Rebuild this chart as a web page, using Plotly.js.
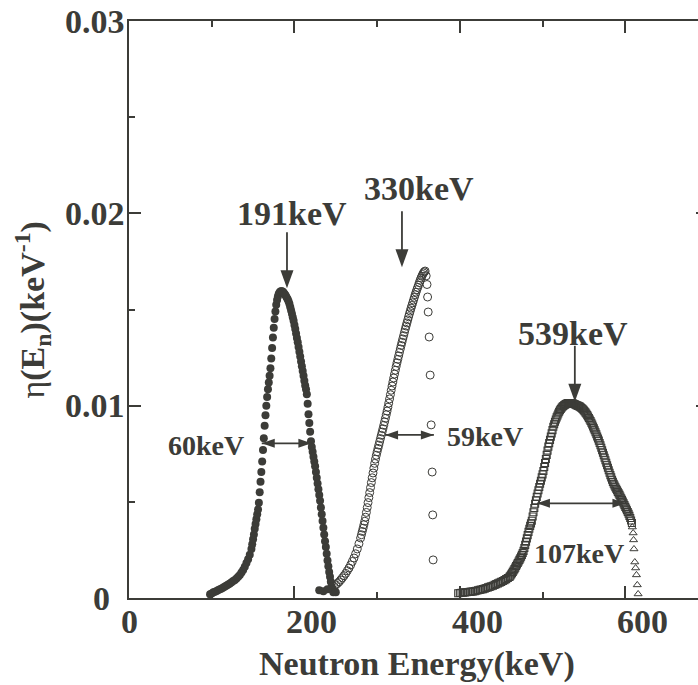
<!DOCTYPE html>
<html>
<head>
<meta charset="utf-8">
<script src="https://cdn.plot.ly/plotly-3.0.1.min.js"></script>
<style>
  html, body { margin: 0; padding: 0; overflow: hidden; background: #ffffff; }
  #chart { width: 720px; height: 685px; }
</style>
</head>
<body>
<div id="chart"></div>
<script>
// Neutron energy spectra eta(En) for three beam settings (keV, keV^-1)

// 191 keV spectrum (filled circles)
const filledEnergy = [
  98,100,102,104,106,108,110,112,114,116,118,120,122,124,126,128,130,132,134,136,138,140,142,144,146,148,
  149,150,151,152,153,154,155,156,157,158,159,160,161,162,163,164,165,166,167,168,169,170,
  171,172,173,174,175,176,177,178,179,180,181,182,183,184,185,186,187,188,189,190,
  191,192,193,194,195,196,197,198,199,200,201,202,203,204,205,206,207,208,209,210,
  211,212,213,214,215,216,217,218,219,220,221,222,223,224,225,226,227,228,229,230,
  231,232,233,234,235,236,237,238,239,240,241,242,243,244,245,246,247,
  230,235,240,250
];
const filledEta = [
  0.20e-3,0.24e-3,0.30e-3,0.33e-3,0.37e-3,0.42e-3,0.46e-3,0.50e-3,0.55e-3,0.60e-3,0.65e-3,0.70e-3,0.76e-3,
  0.82e-3,0.88e-3,0.94e-3,1.02e-3,1.10e-3,1.20e-3,1.32e-3,1.46e-3,1.63e-3,1.82e-3,2.02e-3,2.25e-3,2.55e-3,
  2.80e-3,3.05e-3,3.30e-3,3.60e-3,3.85e-3,4.10e-3,4.35e-3,4.60e-3,4.95e-3,5.50e-3,6.05e-3,6.55e-3,7.10e-3,
  7.70e-3,8.30e-3,8.95e-3,9.50e-3,10.0e-3,10.45e-3,10.85e-3,11.2e-3,11.55e-3,
  11.95e-3,12.45e-3,13.0e-3,13.55e-3,14.05e-3,14.5e-3,14.9e-3,15.25e-3,15.5e-3,15.68e-3,15.8e-3,15.88e-3,
  15.93e-3,15.95e-3,15.95e-3,15.92e-3,15.87e-3,15.8e-3,15.75e-3,15.68e-3,
  15.6e-3,15.52e-3,15.42e-3,15.28e-3,15.12e-3,14.95e-3,14.78e-3,14.6e-3,14.42e-3,14.2e-3,13.98e-3,13.75e-3,
  13.52e-3,13.3e-3,13.05e-3,12.8e-3,12.55e-3,12.3e-3,12.05e-3,11.8e-3,
  11.55e-3,11.3e-3,11.05e-3,10.85e-3,10.6e-3,10.1e-3,9.55e-3,9.1e-3,8.65e-3,8.15e-3,7.85e-3,7.6e-3,7.35e-3,
  7.1e-3,6.85e-3,6.55e-3,6.25e-3,5.95e-3,5.65e-3,5.35e-3,
  5.05e-3,4.7e-3,4.35e-3,4.0e-3,3.65e-3,3.3e-3,2.95e-3,2.65e-3,2.3e-3,1.95e-3,1.65e-3,1.35e-3,1.1e-3,
  0.85e-3,0.6e-3,0.45e-3,0.3e-3,
  0.40e-3,0.35e-3,0.45e-3,0.30e-3
];

// 330 keV spectrum (open circles)
const openEnergy = [
  246,248,250,252,254,256,258,260,262,264,266,268,270,272,274,276,278,
  280,281,282,283,284,285,286,287,288,289,290,291,292,293,294,295,296,297,298,299,
  300,301,302,303,304,305,306,307,308,309,310,311,312,313,314,315,316,317,318,319,
  320,321,322,323,324,325,326,327,328,329,330,331,332,333,334,335,336,337,338,339,
  340,341,342,343,344,345,346,347,348,349,350,351,352,353,354,355,356,357,358,
  359.3,360.3,361.0,361.7,362.9,364.1,365.3,366.5,367.2,367.7
];
const openEta = [
  0.45e-3,0.6e-3,0.68e-3,0.76e-3,0.84e-3,0.94e-3,1.05e-3,1.16e-3,1.28e-3,1.42e-3,1.56e-3,1.72e-3,1.9e-3,
  2.08e-3,2.3e-3,2.55e-3,2.82e-3,
  3.12e-3,3.29e-3,3.46e-3,3.63e-3,3.81e-3,3.99e-3,4.2e-3,4.45e-3,4.7e-3,4.96e-3,5.22e-3,5.48e-3,5.74e-3,
  6.0e-3,6.25e-3,6.5e-3,6.75e-3,7.0e-3,7.22e-3,7.42e-3,
  7.6e-3,7.78e-3,7.95e-3,8.12e-3,8.29e-3,8.46e-3,8.63e-3,8.8e-3,8.98e-3,9.16e-3,9.34e-3,9.53e-3,9.72e-3,
  9.92e-3,10.13e-3,10.35e-3,10.57e-3,10.8e-3,11.02e-3,11.23e-3,
  11.44e-3,11.64e-3,11.84e-3,12.04e-3,12.23e-3,12.41e-3,12.59e-3,12.77e-3,12.95e-3,13.13e-3,13.3e-3,
  13.47e-3,13.64e-3,13.81e-3,13.98e-3,14.14e-3,14.3e-3,14.46e-3,14.62e-3,14.77e-3,
  14.92e-3,15.07e-3,15.21e-3,15.35e-3,15.49e-3,15.63e-3,15.77e-3,15.9e-3,16.03e-3,16.15e-3,16.27e-3,
  16.4e-3,16.52e-3,16.63e-3,16.73e-3,16.82e-3,16.9e-3,16.96e-3,17.0e-3,
  16.75e-3,16.3e-3,15.65e-3,14.87e-3,13.57e-3,11.59e-3,9.0e-3,6.55e-3,4.32e-3,1.98e-3
];

// 539 keV spectrum (open squares)
const squareEnergy = [
  398,400,402,404,406,408,410,412,414,416,418,420,422,424,426,428,430,432,434,436,438,440,442,444,446,448,
  450,452,454,456,458,460,
  461,462,463,464,465,466,467,468,469,470,471,472,473,474,475,476,477,478,479,480,
  481,482,483,484,485,486,487,488,489,490,491,492,493,494,495,496,497,498,499,500,
  501,502,503,504,505,506,507,508,509,510,511,512,513,514,515,516,517,518,519,520,
  521,522,523,524,525,526,527,528,529,530,531,532,533,534,535,536,537,538,539,540,
  541,542,543,544,545,546,547,548,549,550,551,552,553,554,555,556,557,558,559,560,
  561,562,563,564,565,566,567,568,569,570,571,572,573,574,575,576,577,578,579,580,
  581,582,583,584,585,586,587,588,589,590,591,592,593,594,595,596,597,598,599,600,
  601,602,603,604,605,606,607,608
];
const squareEta = [
  0.25e-3,0.26e-3,0.27e-3,0.28e-3,0.29e-3,0.30e-3,0.31e-3,0.32e-3,0.33e-3,0.34e-3,0.36e-3,0.38e-3,0.40e-3,
  0.42e-3,0.44e-3,0.46e-3,0.49e-3,0.52e-3,0.55e-3,0.58e-3,0.61e-3,0.64e-3,0.68e-3,0.72e-3,0.76e-3,0.80e-3,
  0.84e-3,0.88e-3,0.93e-3,0.98e-3,1.04e-3,1.10e-3,
  1.16e-3,1.22e-3,1.29e-3,1.36e-3,1.43e-3,1.50e-3,1.58e-3,1.66e-3,1.74e-3,1.82e-3,1.90e-3,1.98e-3,2.06e-3,
  2.15e-3,2.24e-3,2.34e-3,2.45e-3,2.60e-3,2.76e-3,2.93e-3,
  3.10e-3,3.27e-3,3.44e-3,3.60e-3,3.75e-3,3.88e-3,4.02e-3,4.24e-3,4.46e-3,4.68e-3,4.90e-3,5.08e-3,5.26e-3,
  5.43e-3,5.60e-3,5.77e-3,5.94e-3,6.10e-3,6.27e-3,6.43e-3,
  6.60e-3,6.81e-3,7.02e-3,7.23e-3,7.44e-3,7.66e-3,7.87e-3,8.05e-3,8.22e-3,8.39e-3,8.56e-3,8.73e-3,8.90e-3,
  9.03e-3,9.16e-3,9.28e-3,9.39e-3,9.49e-3,9.59e-3,9.68e-3,
  9.76e-3,9.83e-3,9.89e-3,9.94e-3,9.98e-3,10.02e-3,10.05e-3,10.08e-3,10.10e-3,10.12e-3,10.13e-3,10.14e-3,
  10.14e-3,10.13e-3,10.12e-3,10.12e-3,10.11e-3,10.09e-3,10.07e-3,10.05e-3,
  10.03e-3,10.01e-3,9.99e-3,9.97e-3,9.95e-3,9.92e-3,9.88e-3,9.84e-3,9.80e-3,9.75e-3,9.70e-3,9.64e-3,9.58e-3,
  9.51e-3,9.44e-3,9.36e-3,9.28e-3,9.20e-3,9.11e-3,9.02e-3,
  8.92e-3,8.82e-3,8.72e-3,8.62e-3,8.51e-3,8.40e-3,8.29e-3,8.18e-3,8.06e-3,7.94e-3,7.81e-3,7.68e-3,7.55e-3,
  7.42e-3,7.29e-3,7.16e-3,7.03e-3,6.90e-3,6.77e-3,6.64e-3,
  6.51e-3,6.39e-3,6.27e-3,6.15e-3,6.04e-3,5.94e-3,5.85e-3,5.76e-3,5.68e-3,5.60e-3,5.52e-3,5.44e-3,5.36e-3,
  5.28e-3,5.19e-3,5.10e-3,5.01e-3,4.92e-3,4.83e-3,4.74e-3,
  4.65e-3,4.56e-3,4.47e-3,4.38e-3,4.27e-3,4.16e-3,4.03e-3,3.90e-3
];

// high-energy tail of the 539 keV spectrum (open triangles)
const tailEnergy = [608.5, 609.5, 610, 610.5, 611.5, 612.5, 613.5, 614.5, 615.5];
const tailEta = [3.69e-3, 3.38e-3, 3.02e-3, 2.55e-3, 1.87e-3, 1.56e-3, 1.2e-3, 0.68e-3, 0.21e-3];

// mean energies and widths (FWHM) quoted on the plot, keV
const peakEnergy = [191, 330, 539];
const fwhmWidth = [60, 59, 107];

// axis ticks
const xTickVals = [0, 200, 400, 600];
const xTickText = ['0', '200', '400', '600'];
const yTickVals = [0, 0.01, 0.02, 0.03];
const yTickText = ['0', '0.01', '0.02', '0.03'];

const ink = '#3c3c38';
const serif = 'Liberation Serif, Times New Roman, serif';
const boldFont = (size) => ({ family: serif, size: size, color: ink, weight: 'bold' });

const traces = [
  { x: filledEnergy, y: filledEta, type: 'scatter', mode: 'markers',
    marker: { symbol: 'circle', size: 8, color: ink, line: { width: 0 } } },
  { x: openEnergy, y: openEta, type: 'scatter', mode: 'markers',
    marker: { symbol: 'circle-open', size: 8, color: ink, line: { width: 1 } } },
  { x: squareEnergy, y: squareEta, type: 'scatter', mode: 'markers',
    marker: { symbol: 'square-open', size: 7, color: ink, line: { width: 1.1 } } },
  { x: tailEnergy, y: tailEta, type: 'scatter', mode: 'markers',
    marker: { symbol: 'triangle-up-open', size: 7, color: ink, line: { width: 1 } } }
];

const annotations = [];
const shapes = [];

// tick labels
xTickVals.forEach((v, i) => annotations.push({
  x: v, xref: 'x', y: 0, yref: 'paper', xanchor: 'left', yanchor: 'top',
  xshift: -10, yshift: -3, text: xTickText[i], showarrow: false, font: boldFont(34)
}));
yTickVals.forEach((v, i) => {
  const t = yTickText[i];
  annotations.push({
    x: 0, xref: 'paper', y: v, yref: 'y', yanchor: 'middle',
    xanchor: t.length > 1 ? 'right' : 'center', xshift: t.length > 1 ? -2 : -28,
    text: t, showarrow: false, font: boldFont(34)
  });
});

// axis titles
annotations.push({
  x: 0.5, xref: 'paper', y: 0, yref: 'paper', xanchor: 'center', yanchor: 'top',
  xshift: -2, yshift: -45, text: 'Neutron Energy(keV)', showarrow: false, font: boldFont(34)
});
annotations.push({
  x: 0, xref: 'paper', y: 0.5, yref: 'paper', xanchor: 'center', yanchor: 'middle',
  xshift: -97, yshift: -1, textangle: -90, showarrow: false, font: boldFont(34),
  text: '<span style="font-weight:normal">η</span>(E<sub>n</sub>)(keV<sup>-1</sup>)'
});

// pixel-sized arrow pieces anchored at a data point
function arrowHead(x, y, path) {
  return { type: 'path', xref: 'x', yref: 'y', xsizemode: 'pixel', ysizemode: 'pixel',
           xanchor: x, yanchor: y, path: path, fillcolor: ink, line: { width: 0 } };
}

// peak markers: downward arrow at each mean energy, label above it
const peakTip = [0.0161, 0.0172, 0.0102];
const peakLabelPos = [[196.6, 0.0200], [350.2, 0.02129], [537.1, 0.01376]];
peakEnergy.forEach((e, i) => {
  shapes.push({ type: 'line', xref: 'x', yref: 'y', xsizemode: 'pixel', ysizemode: 'pixel',
                xanchor: e, yanchor: peakTip[i], x0: 0, x1: 0, y0: 14, y1: 56,
                line: { color: ink, width: 1.8 } });
  shapes.push(arrowHead(e, peakTip[i], 'M0,0L-6.5,18L6.5,18Z'));
  annotations.push({
    x: peakLabelPos[i][0], xref: 'x', y: peakLabelPos[i][1], yref: 'y',
    text: e + 'keV', showarrow: false, font: boldFont(34)
  });
});

// FWHM double arrows and their labels
const fwhmCenter = [190.5, 339.1, 546.7];
const fwhmLevel = [0.00804, 0.00848, 0.00492];
const fwhmLabelPos = [[92.5, 0.00791], [430.6, 0.00839], [544.3, 0.00232]];
fwhmWidth.forEach((w, i) => {
  const lo = fwhmCenter[i] - w / 2;
  const hi = fwhmCenter[i] + w / 2;
  shapes.push({ type: 'line', xref: 'x', yref: 'y', x0: lo, x1: hi,
                y0: fwhmLevel[i], y1: fwhmLevel[i], line: { color: ink, width: 1.7 } });
  shapes.push(arrowHead(hi, fwhmLevel[i], 'M0,0L-13,4.5L-13,-4.5Z'));
  shapes.push(arrowHead(lo, fwhmLevel[i], 'M0,0L13,4.5L13,-4.5Z'));
  annotations.push({
    x: fwhmLabelPos[i][0], xref: 'x', y: fwhmLabelPos[i][1], yref: 'y',
    text: w + 'keV', showarrow: false, font: boldFont(28)
  });
});

const axisCommon = {
  ticks: 'inside', ticklen: 12, tickwidth: 2, tickcolor: ink,
  showticklabels: false, showline: true, linewidth: 2, linecolor: ink,
  mirror: 'ticks', showgrid: false, zeroline: false
};

const layout = {
  width: 720, height: 685,
  margin: { l: 129, r: 12, t: 21, b: 87 },
  paper_bgcolor: '#ffffff', plot_bgcolor: '#ffffff',
  showlegend: false,
  font: { family: serif, color: ink },
  xaxis: Object.assign({}, axisCommon, {
    range: [0, 700], tickmode: 'array', tickvals: xTickVals,
    minor: { dtick: 100, tick0: 0, ticks: 'inside', ticklen: 6, tickwidth: 2, tickcolor: ink }
  }),
  yaxis: Object.assign({}, axisCommon, {
    range: [0, 0.03], tickmode: 'array', tickvals: yTickVals,
    minor: { dtick: 0.005, tick0: 0, ticks: 'inside', ticklen: 6, tickwidth: 2, tickcolor: ink }
  }),
  shapes: shapes,
  annotations: annotations
};

Plotly.newPlot('chart', traces, layout, { staticPlot: true, displayModeBar: false });
</script>
</body>
</html>
